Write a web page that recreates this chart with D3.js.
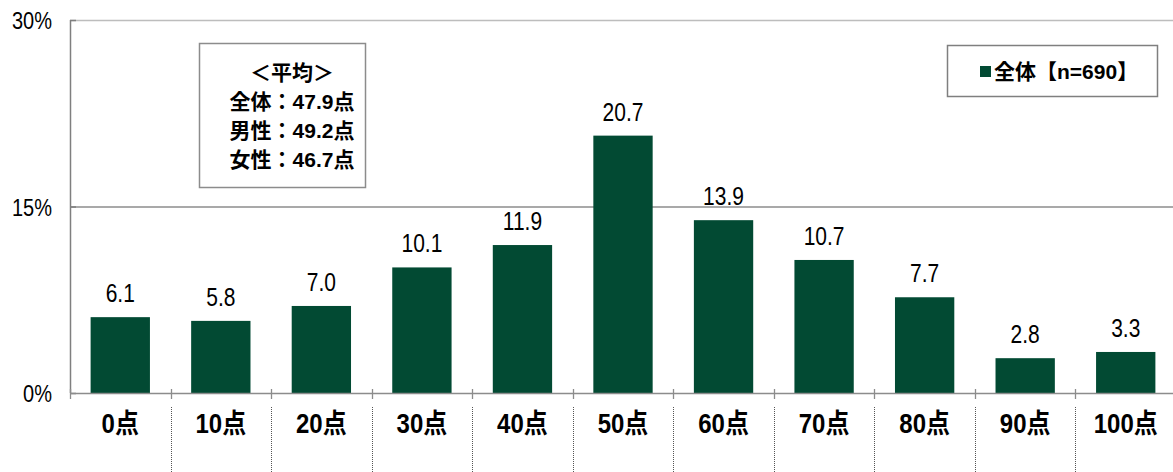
<!DOCTYPE html>
<html>
<head>
<meta charset="utf-8">
<script src="https://cdn.jsdelivr.net/npm/d3@7"></script>
<style>
  body { margin: 0; background: #fff; }
  text { font-family: "Liberation Sans", "Noto Sans CJK JP", sans-serif; fill: #000; }
</style>
</head>
<body>
<div id="chart"></div>
<script>
// data
var categories = ["0点", "10点", "20点", "30点", "40点", "50点", "60点", "70点", "80点", "90点", "100点"];
var values = [6.1, 5.8, 7.0, 10.1, 11.9, 20.7, 13.9, 10.7, 7.7, 2.8, 3.3];
var yTicks = [0, 15, 30];
var seriesName = "全体【n=690】";
var avgLines = ["＜平均＞", "全体：47.9点", "男性：49.2点", "女性：46.7点"];

drawChart();

// the original font is a narrow, tall gothic; stretch glyphs vertically a bit
function tall(px, py, sy) {
  return "translate(" + px + "," + py + ") scale(1," + sy + ")";
}

function drawChart() {
  const W = 1173, H = 472;
  const mLeft = 70, mTop = 20, plotH = 373, plotW = 1106;

  var svg = d3.select("#chart").append("svg")
    .attr("width", W).attr("height", H);

  var x = d3.scaleBand().domain(categories).range([mLeft, mLeft + plotW]).paddingInner(0.41).paddingOuter(0.205);
  var y = d3.scaleLinear().domain([0, 30]).range([mTop + plotH, mTop]);

  // gridlines
  svg.selectAll(".grid").data(yTicks.filter(function(d){ return d > 0; }))
    .enter().append("line")
    .attr("x1", mLeft).attr("x2", W)
    .attr("y1", function(d){ return y(d) + 0.5; }).attr("y2", function(d){ return y(d) + 0.5; })
    .attr("stroke", function(d){ return d == 30 ? "#bdbdbd" : "#8c8c8c"; })
    .attr("stroke-width", 1.3);

  // bars
  svg.selectAll(".bar").data(values).enter().append("rect")
    .attr("x", function(d, i){ return x(categories[i]); })
    .attr("width", x.bandwidth())
    .attr("y", function(d){ return y(d); })
    .attr("height", function(d){ return y(0) - y(d); })
    .attr("fill", "#024a33");

  // value labels
  svg.selectAll(".val").data(values).enter().append("text")
    .attr("transform", function(d, i){ return tall(x(categories[i]) + x.bandwidth() / 2, y(d) - 15, 1.2); })
    .attr("text-anchor", "middle")
    .style("font-size", "21px")
    .text(function(d){ return d.toFixed(1); });

  // y axis
  svg.append("line")
    .attr("x1", mLeft + 0.5).attr("x2", mLeft + 0.5)
    .attr("y1", mTop).attr("y2", y(0))
    .attr("stroke", "#7f7f7f").attr("stroke-width", 1.5);
  svg.selectAll(".ytick").data(yTicks).enter().append("line")
    .attr("x1", mLeft).attr("x2", mLeft + 6)
    .attr("y1", function(d){ return y(d) + 0.5; }).attr("y2", function(d){ return y(d) + 0.5; })
    .attr("stroke", "#7f7f7f").attr("stroke-width", 1.5);
  svg.selectAll(".ylab").data(yTicks).enter().append("text")
    .attr("transform", function(d){ return tall(52, y(d) + 9, 1.2); })
    .attr("text-anchor", "end")
    .style("font-size", "20px")
    .text(function(d){ return d + "%"; });

  // x axis
  svg.append("line")
    .attr("x1", mLeft).attr("x2", W)
    .attr("y1", y(0) + 0.5).attr("y2", y(0) + 0.5)
    .attr("stroke", "#8c8c8c").attr("stroke-width", 1.5);
  var step = x.step();
  var bounds = d3.range(categories.length + 1).map(function(i){ return mLeft + i * step; });
  svg.selectAll(".xtick").data(bounds).enter().append("line")
    .attr("x1", function(d){ return Math.round(d) + 0.5; }).attr("x2", function(d){ return Math.round(d) + 0.5; })
    .attr("y1", y(0) - 4).attr("y2", y(0) + 6)
    .attr("stroke", "#8c8c8c").attr("stroke-width", 1.3);
  svg.selectAll(".xsep").data(bounds.slice(1)).enter().append("line")
    .attr("x1", function(d){ return Math.round(d) + 0.5; }).attr("x2", function(d){ return Math.round(d) + 0.5; })
    .attr("y1", y(0) + 14).attr("y2", H)
    .attr("stroke", "#555").attr("stroke-width", 1)
    .attr("stroke-dasharray", "1,1");
  svg.selectAll(".xlab").data(categories).enter().append("text")
    .attr("transform", function(d){ return tall(x(d) + x.bandwidth() / 2, y(0) + 40, 1.12); })
    .attr("text-anchor", "middle")
    .style("font-size", "24px").style("font-weight", "bold")
    .text(function(d){ return d; });

  // average box
  svg.append("rect")
    .attr("x", 199.5).attr("y", 43.5).attr("width", 166).attr("height", 144)
    .attr("fill", "#fff").attr("stroke", "#8c8c8c").attr("stroke-width", 1.5);
  svg.selectAll(".avg").data(avgLines).enter().append("text")
    .attr("x", 292).attr("y", function(d, i){ return 80 + i * 29; })
    .attr("text-anchor", "middle")
    .style("font-size", "21px").style("font-weight", "bold")
    .text(function(d){ return d; });

  // legend
  svg.append("rect")
    .attr("x", 947.5).attr("y", 45.5).attr("width", 210).attr("height", 51)
    .attr("fill", "#fff").attr("stroke", "#7f7f7f").attr("stroke-width", 1.5);
  svg.append("rect")
    .attr("x", 980).attr("y", 66).attr("width", 11).attr("height", 11)
    .attr("fill", "#024a33");
  svg.append("text")
    .attr("x", 994).attr("y", 79)
    .style("font-size", "21px").style("font-weight", "bold")
    .text(seriesName);
}
</script>
</body>
</html>
